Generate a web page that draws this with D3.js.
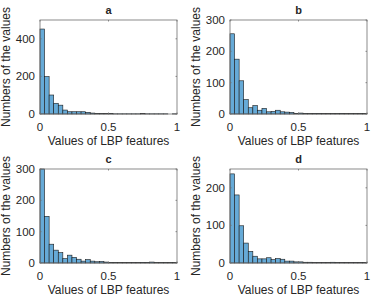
<!DOCTYPE html>
<html>
<head>
<meta charset="utf-8">
<script src="https://cdn.jsdelivr.net/npm/d3@7"></script>
<style>
  body { margin: 0; background: #fff; }
  svg { display: block; }
  text { font-family: "Liberation Sans", Arial, sans-serif; fill: #262626; }
</style>
</head>
<body>
<script>
// histogram counts, 30 bins over [0, 1]
const countsA = [452, 199, 101, 57, 47, 21, 12, 12, 12, 12, 9, 5, 3, 2, 2, 3, 1, 1, 1, 1, 1, 1, 2, 1, 1, 1, 1, 1, 0, 1];
const countsB = [256, 175, 106, 46, 20, 27, 12, 18, 7, 8, 12, 7, 6, 5, 2, 3, 2, 1, 2, 2, 1, 1, 1, 1, 2, 1, 1, 1, 1, 1];
const countsC = [300, 149, 60, 41, 33, 14, 25, 18, 12, 6, 11, 6, 4, 5, 3, 2, 2, 1, 1, 1, 1, 1, 2, 2, 3, 1, 1, 1, 1, 1];
const countsD = [237, 181, 99, 53, 31, 18, 11, 11, 14, 9, 12, 10, 5, 5, 3, 3, 2, 2, 1, 1, 1, 1, 2, 1, 1, 1, 1, 1, 1, 1];

const panelTitles = ['a', 'b', 'c', 'd'];
const yMax = [500, 300, 300, 250];
const yTicks = [[0, 200, 400], [0, 100, 200, 300], [0, 100, 200, 300], [0, 100, 200]];
const xTicks = [0, 0.5, 1];
const xLabel = 'Values of LBP features';
const yLabel = 'Numbers of the values';

const W = 373, H = 297;
const svg = d3.select('body').append('svg').attr('width', W).attr('height', H);

// axes boxes (left, top) for each panel
const boxes = [[40, 20], [230, 20], [40, 169], [230, 169]];
const bw = 137, bh = 94;

function drawPanel(i, counts) {
  const [left, top] = boxes[i];
  const g = svg.append('g').attr('transform', `translate(${left},${top})`);
  const x = d3.scaleLinear().domain([0, 1]).range([0, bw]);
  const y = d3.scaleLinear().domain([0, yMax[i]]).range([bh, 0]);
  const step = 1 / counts.length;

  g.selectAll('rect.bar').data(counts).join('rect')
    .attr('class', 'bar')
    .attr('x', (d, k) => x(k * step))
    .attr('width', x(step) - x(0))
    .attr('y', d => y(d))
    .attr('height', d => bh - y(d))
    .attr('fill', '#66aad7')
    .attr('stroke', '#1a1a1a')
    .attr('stroke-width', 0.6);

  // box
  g.append('rect').attr('width', bw).attr('height', bh)
    .attr('fill', 'none').attr('stroke', '#6e6e6e').attr('stroke-width', 0.8);

  // ticks inside on all sides
  const tl = 1.5;
  const tick = (x1, y1, x2, y2) => g.append('line')
    .attr('x1', x1).attr('y1', y1).attr('x2', x2).attr('y2', y2)
    .attr('stroke', '#6e6e6e').attr('stroke-width', 0.8);
  xTicks.forEach(t => {
    tick(x(t), bh, x(t), bh - tl);
    tick(x(t), 0, x(t), tl);
    g.append('text').attr('x', x(t)).attr('y', bh + 17)
      .attr('text-anchor', 'middle').attr('font-size', 11.5).text(t);
  });
  yTicks[i].forEach(t => {
    tick(0, y(t), tl, y(t));
    tick(bw, y(t), bw - tl, y(t));
    g.append('text').attr('x', -5).attr('y', y(t) + 4)
      .attr('text-anchor', 'end').attr('font-size', 11.5).text(t);
  });

  g.append('text').attr('x', bw / 2).attr('y', -6)
    .attr('text-anchor', 'middle').attr('font-size', 11).attr('font-weight', 'bold')
    .attr('fill', '#000').text(panelTitles[i]);
  g.append('text').attr('x', bw / 2).attr('y', bh + 31)
    .attr('text-anchor', 'middle').attr('font-size', 12).text(xLabel);
  g.append('text')
    .attr('transform', `translate(-30,${bh / 2}) rotate(-90)`)
    .attr('text-anchor', 'middle').attr('font-size', 12).text(yLabel);
}

[countsA, countsB, countsC, countsD].forEach((c, i) => drawPanel(i, c));
</script>
</body>
</html>
